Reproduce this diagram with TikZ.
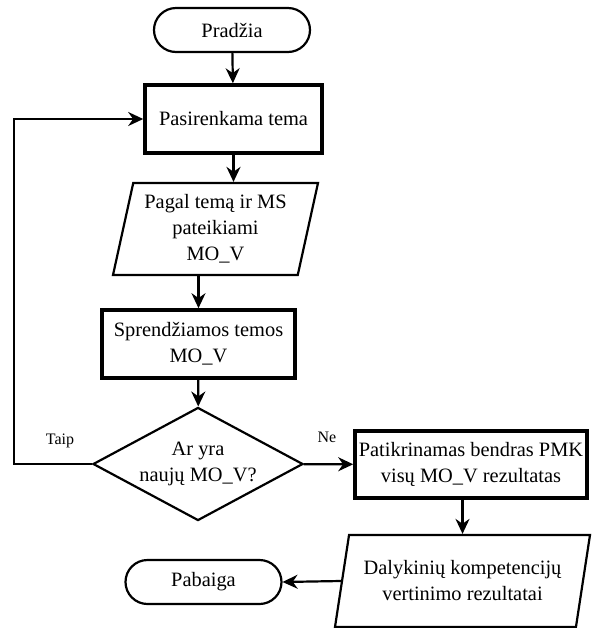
\documentclass[tikz,border=0pt]{standalone}
\usepackage{fontspec}
\setmainfont{LiberationSerif}[Extension=.ttf,UprightFont=*-Regular,BoldFont=*-Bold]
\usepackage{tikz}
\usetikzlibrary{arrows.meta,positioning,shapes.geometric,shapes.misc}

\begin{document}
\begin{tikzpicture}[x=0.5pt,y=-0.5pt,font=\rmfamily\fontsize{10.2}{13}\selectfont,line width=1.1pt,
  arr/.style={-{Stealth[length=7.5pt,width=7pt]}},
  term/.style={rounded rectangle,draw,minimum width=78pt,minimum height=22pt,inner sep=0pt},
  proc/.style={rectangle,draw,line width=1.8pt,align=center,inner sep=0pt},
  io/.style={trapezium,draw,trapezium stretches body,align=center,inner sep=0pt,minimum height=46pt},
  dec/.style={diamond,draw,align=center,inner sep=-6pt,minimum width=105pt,minimum height=56pt},
  lbl/.style={font=\rmfamily\fontsize{8}{10}\selectfont}]
  \useasboundingbox (0,0) rectangle (591,628);

  \node[term] (start) at (232,30) {Pradžia};
  \node[proc, minimum width=88.5pt, minimum height=34pt] (box1) at (233.5,119) {Pasirenkama tema};
  \node[io, trapezium left angle=73.6, trapezium right angle=106.4, minimum width=102.5pt] (para1) at (215.5,229) {Pagal temą ir MS\\pateikiami\\MO\_V};
  \node[proc, minimum width=96.5pt, minimum height=34pt] (box2) at (198.5,344) {Sprendžiamos temos\\MO\_V};
  \node[dec] (dec) at (198,464) {Ar yra\\naujų MO\_V?};
  \node[proc, minimum width=116pt, minimum height=33.5pt] (check) at (471,464.5) {Patikrinamas bendras PMK\\visų MO\_V rezultatas};
  \node[io, trapezium left angle=70.8, trapezium right angle=109.2, minimum width=127.5pt] (para2) at (462.5,581) {Dalykinių kompetencijų\\vertinimo rezultatai};
  \node[term] (stop) at (203.5,582) {Pabaiga};

  \node[lbl] (taip) at (60,441) {Taip};
  \node[lbl] (ne) at (327,437) {Ne};
  \coordinate (loop) at (14,464);

  \draw[arr] (start) -- (box1);
  \draw[arr] (box1) -- (box1 |- para1.north);
  \draw[arr] (box2 |- para1.south) -- (box2);
  \draw[arr] (box2) -- (dec);
  \draw[arr] (dec) -- (check);
  \draw[arr] (para2.north |- check.south) -- (para2.north);
  \draw[arr] (para2.west) -- (stop.east);
  \draw[arr] (dec.west) -- (loop) |- (box1.west);
\end{tikzpicture}
\end{document}
